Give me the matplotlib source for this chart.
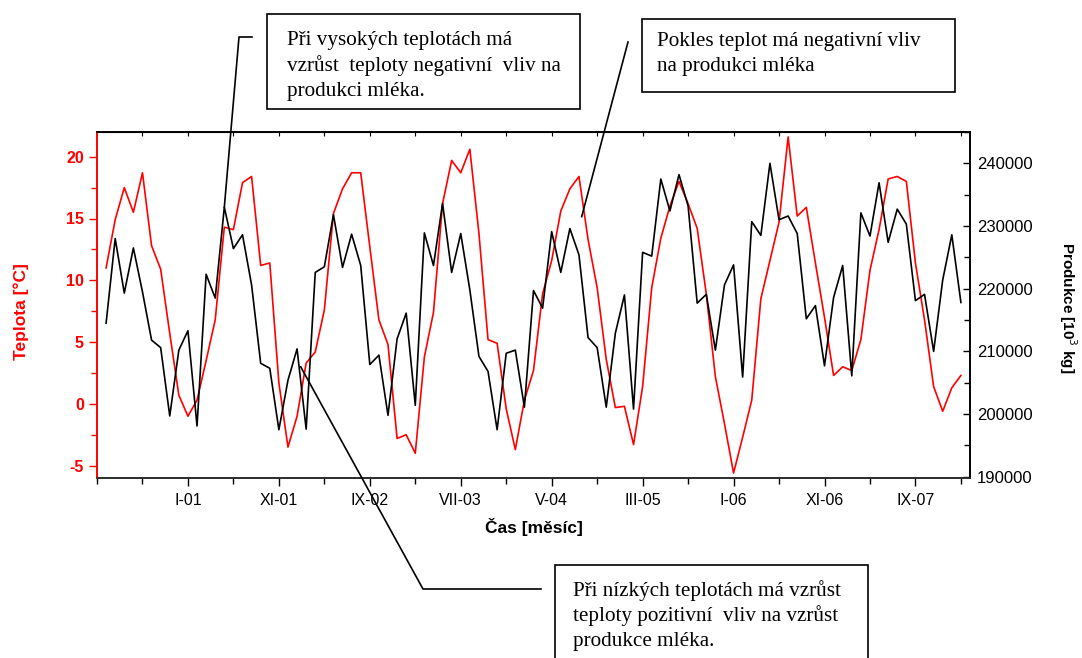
import matplotlib
matplotlib.use("Agg")
import matplotlib.pyplot as plt
from matplotlib.lines import Line2D
from matplotlib.patches import Rectangle
from matplotlib.ticker import MultipleLocator
import numpy as np

plt.rcParams['font.family'] = ['Liberation Sans', 'DejaVu Sans']
plt.rcParams['axes.unicode_minus'] = False
SERIF = ['Liberation Serif', 'DejaVu Serif']

# měsíce IV-2000 .. II-2008, osa x počítá měsíce od III-2000
mesic = np.arange(1, 96)

# průměrná měsíční teplota [°C]
teplota = [11.0, 14.9, 17.5, 15.5, 18.7, 12.8, 10.9, 5.7, 0.7, -1.0,
           0.3, 3.5, 6.8, 14.3, 14.1, 17.9, 18.4, 11.2, 11.4, 1.7,
           -3.5, -1.0, 3.3, 4.2, 7.6, 15.4, 17.4, 18.7, 18.7, 12.7,
           6.8, 4.8, -2.8, -2.5, -4.0, 3.8, 7.4, 16.2, 19.7, 18.7,
           20.6, 13.8, 5.2, 4.9, -0.4, -3.7, 0.3, 2.7, 8.9, 11.6,
           15.6, 17.4, 18.4, 13.3, 9.4, 3.6, -0.3, -0.2, -3.3, 1.4,
           9.4, 13.4, 16.0, 18.0, 16.2, 14.2, 8.9, 2.2, -1.6, -5.6,
           -2.7, 0.3, 8.5, 11.6, 14.7, 21.6, 15.2, 15.9, 11.4, 7.0,
           2.3, 3.0, 2.7, 5.2, 10.8, 14.1, 18.2, 18.4, 18.0, 11.4,
           6.8, 1.4, -0.6, 1.3, 2.3]

# produkce mléka [10^3 kg]
produkce = [214500, 228000, 219300, 226500, 219500, 211800, 210600, 199700, 210200, 213300,
            198100, 222300, 218500, 233000, 226400, 228600, 220600, 208100, 207300, 197500,
            205400, 210400, 197600, 222600, 223500, 231800, 223400, 228700, 223700, 207900,
            209400, 199800, 212000, 216100, 201400, 228900, 223700, 233600, 222600, 228800,
            219800, 209200, 206800, 197500, 209700, 210200, 201100, 219700, 216900, 229100,
            222600, 229600, 225400, 212200, 210600, 201100, 212900, 219000, 200800, 225800,
            225200, 237500, 232400, 238200, 233200, 217700, 219100, 210200, 220600, 223800,
            205900, 230700, 228500, 240000, 231000, 231600, 228800, 215200, 217300, 207700,
            218600, 223700, 206100, 232100, 228400, 236900, 227400, 232700, 230300, 218100,
            219100, 210000, 221400, 228600, 217800]

popisky = ["I-01", "XI-01", "IX-02", "VII-03", "V-04", "III-05", "I-06", "XI-06", "IX-07"]
pozice = [10, 20, 30, 40, 50, 60, 70, 80, 90]

W, H = 1082, 658
fig = plt.figure(figsize=(W / 100, H / 100), dpi=100)
ax = fig.add_axes([97 / W, 1 - 478 / H, (970 - 97) / W, (478 - 132) / H])
ax2 = ax.twinx()

ax.plot(mesic, teplota, color='red', lw=1.2)
ax2.plot(mesic, produkce, color='black', lw=1.2)

ax.set_xlim(0, 96)
ax.set_ylim(-6, 22)
ax2.set_ylim(189800, 245000)

ax.set_xticks(pozice)
ax.set_xticklabels(popisky)
ax.xaxis.set_minor_locator(MultipleLocator(5))
ax.yaxis.set_major_locator(MultipleLocator(5))
ax.yaxis.set_minor_locator(MultipleLocator(2.5))
ax2.yaxis.set_major_locator(MultipleLocator(10000))
ax2.yaxis.set_minor_locator(MultipleLocator(5000))

ax.tick_params(axis='x', which='major', direction='out', length=6, width=1, labelsize=11.5, pad=5)
ax.tick_params(axis='x', which='minor', direction='out', length=4, width=1)
ax.tick_params(axis='y', which='major', direction='out', length=6, width=1, colors='red', labelsize=11.5)
ax.tick_params(axis='y', which='minor', direction='out', length=4, width=1, colors='red')
for t in ax.get_yticklabels():
    t.set_fontweight('bold')
ax2.tick_params(axis='y', which='major', direction='in', length=5, width=1, labelsize=12, pad=5)
ax2.tick_params(axis='y', which='minor', direction='in', length=4, width=1)

# drobné ticky uvnitř na horní ose
top = ax.secondary_xaxis('top')
top.set_xticks(np.arange(5, 96, 5))
top.tick_params(direction='in', length=3, width=0.8, labeltop=False)

for a in (ax, ax2):
    for s in a.spines.values():
        s.set_linewidth(1.2)
ax2.spines['left'].set_color('red')
ax.spines['left'].set_color('red')
ax2.spines['bottom'].set_color('#333333')

ax.set_xlabel("Čas [měsíc]", fontsize=12.5, fontweight='bold', labelpad=7)
fig.text(21 / W, 1 - 312 / H, "Teplota [°C]", color='red', fontsize=12.5, fontweight='bold',
         rotation=90, ha='center', va='center')
fig.text(1068 / W, 1 - 308 / H, "Produkce [10$^{3}$ kg]", fontsize=11, fontweight='bold',
         rotation=-90, ha='center', va='center')


def to_px(a, x, y):
    dx, dy = a.transData.transform((x, y))
    return dx, H - dy


def callout(points):
    xs = [p[0] / W for p in points]
    ys = [1 - p[1] / H for p in points]
    fig.add_artist(Line2D(xs, ys, color='black', lw=1.2, transform=fig.transFigure, zorder=10))


def box(x0, y0, x1, y1, lines, tx, baselines):
    fig.add_artist(Rectangle((x0 / W, 1 - y1 / H), (x1 - x0) / W, (y1 - y0) / H,
                             transform=fig.transFigure, fill=False, lw=1.2, ec='black', zorder=10))
    for line, b in zip(lines, baselines):
        fig.text(tx / W, 1 - b / H, line, family=SERIF, fontsize=15.2, ha='left', va='baseline')


callout([(252, 37), (239, 37), to_px(ax2, 14, 233000)])
box(267, 14, 580, 109,
    ["Při vysokých teplotách má", "vzrůst  teploty negativní  vliv na", "produkci mléka."],
    287, [45, 71, 96])

callout([(628, 42), to_px(ax2, 53.3, 231500)])
box(642, 19, 955, 92,
    ["Pokles teplot má negativní vliv", "na produkci mléka"],
    657, [46, 71])

callout([to_px(ax, 22.4, 3.0), (423, 589), (541, 589)])
box(555, 565, 868, 680,
    ["Při nízkých teplotách má vzrůst", "teploty pozitivní  vliv na vzrůst", "produkce mléka."],
    573, [596, 621, 646])

fig.savefig("out.png", dpi=100)
